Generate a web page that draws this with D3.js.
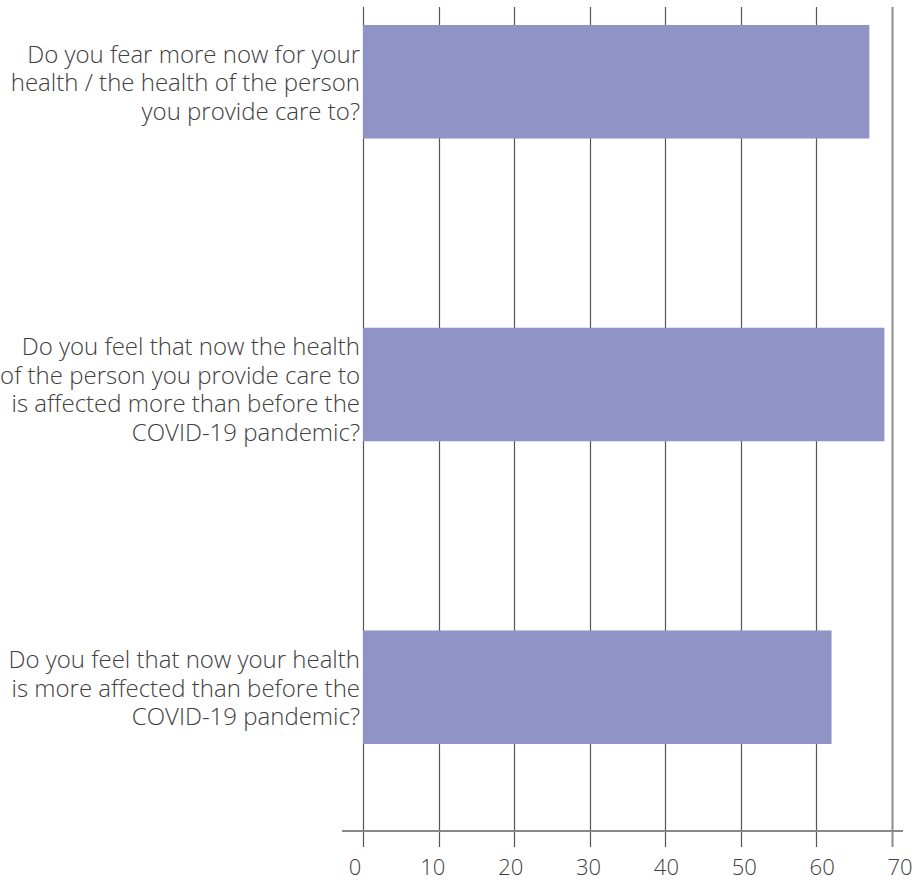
<!DOCTYPE html>
<html>
<head>
<meta charset="utf-8">
<script src="https://cdn.jsdelivr.net/npm/d3@7"></script>
<style>
  html, body { margin: 0; padding: 0; background: #fff; }
  svg { display: block; }
  text { font-family: "Open Sans", "Segoe UI", "Noto Sans", sans-serif; font-weight: 300; fill: #404040; }
</style>
</head>
<body>
<svg id="chart" width="916" height="880"></svg>
<script>
const categories = [
  "Do you fear more now for your\nhealth / the health of the person\nyou provide care to?",
  "Do you feel that now the health\nof the person you provide care to\nis affected more than before the\nCOVID-19 pandemic?",
  "Do you feel that now your health\nis more affected than before the\nCOVID-19 pandemic?"
];
const values = [67, 69, 62];
const tickValues = [0, 10, 20, 30, 40, 50, 60, 70];

const svg = d3.select("#chart");

const x = d3.scaleLinear().domain([0, 70]).range([363, 892]);
const xLabel = d3.scaleLinear().domain([0, 70]).range([355, 900]);
const y = d3.scaleBand().domain(categories).range([25, 744]).paddingInner(0.625).paddingOuter(0);

const axisY = 831;

// gridlines
svg.append("g").selectAll("line").data(tickValues).join("line")
  .attr("x1", d => Math.round(x(d)) + 0.5)
  .attr("x2", d => Math.round(x(d)) + 0.5)
  .attr("y1", 7).attr("y2", 847)
  .attr("stroke", d => d === 70 ? "#8c8c8c" : "#555")
  .attr("stroke-width", d => d === 70 ? 2 : 1.2);

// bars
svg.append("g").selectAll("rect").data(values).join("rect")
  .attr("x", x(0))
  .attr("y", (d, i) => y(categories[i]))
  .attr("width", d => x(d) - x(0))
  .attr("height", y.bandwidth())
  .attr("fill", "#8F93C6");

// axis line
svg.append("line")
  .attr("x1", 342).attr("x2", 903)
  .attr("y1", axisY).attr("y2", axisY)
  .attr("stroke", "#888").attr("stroke-width", 2);

// tick labels
svg.append("g").selectAll("text").data(tickValues).join("text")
  .attr("x", d => xLabel(d))
  .attr("y", 875)
  .attr("text-anchor", "middle")
  .style("font-size", "22px")
  .text(d => d);

// category labels
const lineH = 28.5;
const lab = svg.append("g").selectAll("text").data(categories).join("text")
  .attr("text-anchor", "end")
  .style("font-size", "24px");
lab.each(function(d) {
  const lines = d.split("\n");
  const shift = lines.length > 3 ? 4 : 0;
  const cy = y(d) + y.bandwidth() / 2 + shift;
  const t = d3.select(this);
  lines.forEach((ln, i) => {
    t.append("tspan")
      .attr("x", 360)
      .attr("y", cy + (i - (lines.length - 1) / 2) * lineH)
      .attr("dominant-baseline", "central")
      .text(ln);
  });
});
</script>
</body>
</html>
